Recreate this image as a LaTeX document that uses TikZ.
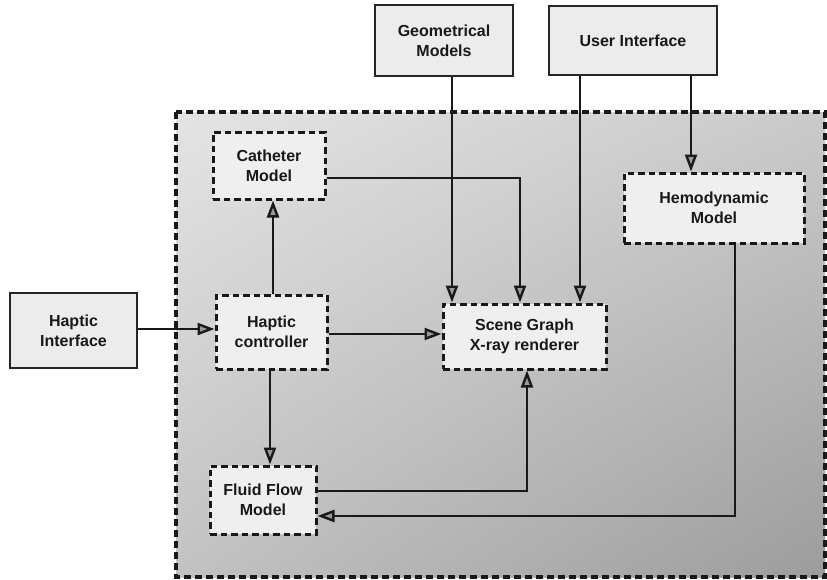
\documentclass[tikz,border=0pt]{standalone}
\usepackage{fontspec}
\setmainfont{Liberation Sans}
\usetikzlibrary{arrows.meta,shadings}
\definecolor{boxfill}{HTML}{EFEFEF}
\definecolor{outfill}{HTML}{ECECEC}
\definecolor{bgul}{HTML}{E4E4E4}
\definecolor{bgur}{HTML}{CACACA}
\definecolor{bgll}{HTML}{C2C2C2}
\definecolor{bglr}{HTML}{9C9C9C}
\definecolor{tipfill}{HTML}{9A9A9A}
\begin{document}
\begin{tikzpicture}[x=1pt,y=-1pt,
  lbl/.style={font=\fontsize{16}{20}\selectfont\bfseries, align=center, text=black!90},
  inbox/.style={lbl, draw=black!90, fill=boxfill, line width=3pt, dash pattern=on 6.5pt off 4pt, inner sep=0pt},
  outbox/.style={lbl, draw=black!85, fill=outfill, line width=2.6pt, inner sep=0pt},
  conn/.style={draw=black!90, line width=2.4pt},
  arr/.style={conn, -{Triangle[length=17pt, width=12pt, line width=2.4pt, fill=tipfill]}}
]
\useasboundingbox (0,0) rectangle (827,579);
% container
\shade[upper left=bgul, upper right=bgur, lower left=bgll, lower right=bglr]
  (176,112) rectangle (825,577);
\draw[black!90, line width=3.2pt, dash pattern=on 7pt off 4pt] (176,112) rectangle (825,577);

% outer boxes
\node[outbox, minimum width=138pt, minimum height=71pt] (geo) at (444,40.5) {Geometrical\\Models};
\node[outbox, minimum width=168pt, minimum height=69pt] (ui) at (633,40.5) {User Interface};
\node[outbox, minimum width=127pt, minimum height=75pt] (hi) at (73.5,330.5) {Haptic\\Interface};

% inner boxes
\node[inbox, minimum width=112pt, minimum height=67pt] (cath) at (269,165.5) {Catheter\\Model};
\node[inbox, minimum width=180pt, minimum height=70pt] (hemo) at (714,208) {Hemodynamic\\Model};
\node[inbox, minimum width=111pt, minimum height=74pt] (hc) at (271.5,332) {Haptic\\controller};
\node[inbox, minimum width=163pt, minimum height=65pt] (scene) at (524.5,336.5) {Scene Graph\\X-ray renderer};
\node[inbox, minimum width=106pt, minimum height=68pt] (fluid) at (263,500) {Fluid Flow\\Model};

% connectors
\draw[arr] (geo.south -| 452,0) -- (scene.north -| 452,0);
\draw[arr] (ui.south -| 580,0) -- (scene.north -| 580,0);
\draw[arr] (ui.south -| 691,0) -- (hemo.north -| 691,0);
\draw[arr] (cath.east |- 0,178) -| (scene.north -| 520,0);
\draw[arr] (hc.north -| 273,0) -- (cath.south -| 273,0);
\draw[arr] (hc.south -| 270,0) -- (fluid.north -| 270,0);
\draw[arr] (hi.east |- 0,329) -- (hc.west |- 0,329);
\draw[arr] (hc.east |- 0,334) -- (scene.west |- 0,334);
\draw[arr] (fluid.east |- 0,491) -| (scene.south -| 527,0);
\draw[arr] (hemo.south -| 735,0) |- (fluid.east |- 0,516);
\end{tikzpicture}
\end{document}
